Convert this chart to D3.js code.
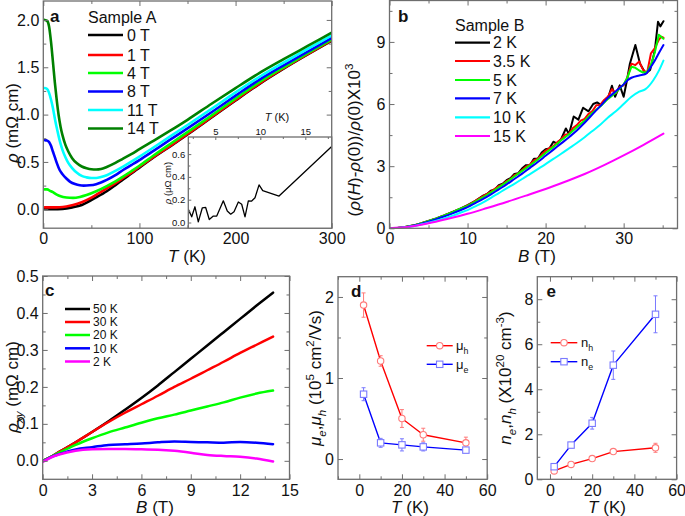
<!DOCTYPE html>
<html><head><meta charset="utf-8">
<script src="https://cdn.jsdelivr.net/npm/d3@7"></script>
<style>
body{margin:0;background:#fff}
svg{display:block}
</style></head><body>
<svg id="chart" width="685" height="516"></svg>
<script>
// ================= DATA =================
// Panel a: rho (mOhm cm) vs T (K), Sample A
const aLabels = ["0 T","1 T","4 T","8 T","11 T","14 T"];
const aColors = ["#000000","#ff0000","#00ff00","#0000ff","#00ffff","#008000"];
const a0T = [[1.5,0],[10,0],[20,0.004],[30,0.02],[40,0.045],[48.6,0.09],[55,0.125],[66,0.19],[75,0.255],[83,0.315],[92,0.38],[100,0.44],[115,0.55],[132,0.665],[150,0.79],[175,0.97],[200,1.15],[225,1.325],[250,1.485],[275,1.635],[300,1.78]];
const a1T = [[1.5,0.02],[10,0.02],[17,0.022],[24,0.03],[31,0.045],[40,0.075],[48.6,0.115],[57,0.165],[66,0.22],[75,0.275],[83,0.33],[92,0.39],[100,0.45],[115,0.555],[132,0.67],[150,0.795],[175,0.975],[200,1.155],[225,1.33],[250,1.49],[275,1.64],[300,1.785]];
const a4T = [[1.5,0.21],[4,0.21],[7,0.195],[10,0.18],[14,0.155],[18,0.138],[24,0.125],[31,0.12],[38,0.13],[45,0.15],[55,0.19],[66,0.245],[75,0.295],[83,0.345],[92,0.405],[100,0.46],[115,0.57],[132,0.69],[150,0.815],[175,0.99],[200,1.17],[225,1.345],[250,1.5],[275,1.65],[300,1.795]];
const a8T = [[1.5,0.73],[4,0.725],[6,0.71],[8,0.67],[10,0.61],[12,0.55],[14,0.49],[17,0.415],[20,0.37],[24,0.325],[28,0.29],[33,0.266],[38,0.253],[42,0.25],[48,0.253],[55,0.265],[60,0.283],[66,0.31],[75,0.36],[83,0.415],[92,0.47],[100,0.52],[115,0.62],[132,0.735],[150,0.855],[175,1.025],[200,1.2],[225,1.37],[250,1.52],[275,1.665],[300,1.81]];
const a11T = [[1.5,1.28],[4,1.27],[6,1.23],[8,1.16],[10,1.07],[12,0.96],[14,0.86],[16,0.77],[18,0.69],[20,0.625],[23,0.55],[26,0.49],[30,0.435],[35,0.385],[40,0.352],[45,0.337],[50,0.33],[55,0.33],[60,0.34],[66,0.36],[75,0.405],[83,0.45],[92,0.505],[100,0.556],[115,0.655],[132,0.77],[150,0.89],[175,1.06],[200,1.235],[225,1.4],[250,1.55],[275,1.695],[300,1.835]];
const a14T = [[1.5,2.0],[4,1.99],[6,1.93],[8,1.77],[10,1.56],[12,1.34],[14,1.15],[16,0.99],[18,0.87],[20,0.78],[23,0.68],[26,0.61],[30,0.54],[35,0.485],[40,0.452],[45,0.433],[50,0.422],[55,0.42],[60,0.425],[66,0.447],[75,0.49],[83,0.535],[92,0.585],[100,0.635],[115,0.725],[132,0.83],[150,0.945],[175,1.115],[200,1.28],[225,1.44],[250,1.585],[275,1.725],[300,1.865]];
const aXTicks = [0,100,200,300], aXMinor = [50,150,250];
const aYTicks = [0,0.5,1.0,1.5,2.0], aYMinor = [0.25,0.75,1.25,1.75];
// Inset of panel a: rho (uOhm cm) vs T (K)
const insetT   = [2.0,2.38,2.74,3.11,3.56,3.93,4.33,4.78,5.16,5.89,6.33,6.71,7.08,7.56,7.93,8.3,8.67,9.04,9.41,9.86,10.27,12.08,17.9];
const insetRho = [0.115,0.05,0.138,0.005,0.129,0.132,0.026,0.056,0.056,0.19,0.1,0.073,0.094,0.18,0.16,0.05,0.19,0.188,0.217,0.33,0.28,0.232,0.665];
const insetXTicks = [5,10,15], insetXMinor = [2.5,7.5,12.5,17.5];
const insetYTicks = [0,0.2,0.4,0.6], insetYMinor = [0.1,0.3,0.5,0.7];

// Panel b: (rho(H)-rho(0))/rho(0) x10^3 vs B (T), Sample B
const bLabels = ["2 K","3.5 K","5 K","7 K","10 K","15 K"];
const bColors = ["#000000","#ff0000","#00ff00","#0000ff","#00ffff","#ff00ff"];
const b2K = [[0,0],[1,0.015],[2,0.06],[3,0.13],[4,0.23],[5,0.35],[6,0.48],[7,0.62],[8,0.78],[9,0.94],[10,1.12],[11,1.33],[12,1.58],[12.5,1.66],[13,1.82],[13.5,1.88],[14,2.08],[14.5,2.15],[15,2.32],[15.5,2.42],[16,2.62],[16.5,2.66],[17,2.9],[17.5,3.05],[18,3.06],[18.5,3.36],[19,3.36],[19.5,3.66],[20,3.82],[20.5,3.86],[21,4.18],[21.5,4.08],[22,4.32],[22.6,4.82],[23,4.55],[23.6,5.4],[24.2,5.25],[24.8,5.82],[25.5,5.65],[26.1,6.0],[26.6,6.08],[27.1,5.95],[27.5,6.15],[28,6.3],[28.5,6.88],[28.9,6.35],[29.5,6.9],[30,6.35],[30.4,7.1],[30.8,7.95],[31.5,8.85],[32.1,7.95],[32.8,7.48],[33.4,7.65],[34,8.6],[34.4,9.97],[34.7,9.75],[35.1,10.0]];
const b3p5K = [[0,0],[1,0.015],[2,0.06],[3,0.13],[4,0.23],[5,0.35],[6,0.48],[7,0.62],[8,0.77],[9,0.93],[10,1.1],[11,1.32],[12,1.55],[13,1.77],[14,2.04],[14.5,2.12],[15,2.28],[15.5,2.38],[16,2.56],[16.5,2.64],[17,2.82],[17.5,2.98],[18,3.08],[18.5,3.28],[19,3.36],[19.5,3.56],[20,3.74],[20.5,3.88],[21,3.96],[21.5,4.16],[22,4.3],[22.5,4.52],[23,4.56],[23.5,4.84],[24,4.98],[24.5,5.2],[25,5.28],[25.5,5.52],[26,5.66],[26.5,5.94],[27,5.96],[27.5,6.2],[28,6.36],[28.5,6.72],[29,6.52],[29.5,6.82],[30,6.9],[30.5,7.3],[31,7.95],[31.5,7.88],[32,8.05],[32.5,7.65],[33,7.5],[33.5,8.45],[34,8.7],[34.5,9.1],[34.8,9.25],[35.1,9.2]];
const b5K = [[0,0],[1,0.015],[2,0.06],[3,0.13],[4,0.23],[5,0.35],[6,0.48],[7,0.62],[8,0.77],[9,0.93],[10,1.08],[11,1.29],[12,1.5],[13,1.73],[14,1.98],[15,2.23],[16,2.5],[17,2.77],[18,3.04],[19,3.32],[20,3.64],[21,3.93],[22,4.25],[23,4.54],[24,4.88],[25,5.2],[26,5.58],[27,5.88],[28,6.25],[29,6.55],[30,6.95],[30.5,7.3],[31,7.8],[31.5,7.75],[32,7.62],[32.5,7.52],[33,7.55],[33.5,7.9],[34,8.5],[34.5,9.35],[35.1,9.15]];
const b7K = [[0,0],[1,0.015],[2,0.055],[3,0.12],[4,0.21],[5,0.32],[6,0.44],[7,0.57],[8,0.71],[9,0.86],[10,1.02],[11,1.22],[12,1.42],[13,1.64],[14,1.88],[15,2.12],[16,2.38],[17,2.64],[18,2.92],[19,3.2],[20,3.5],[21,3.8],[22,4.1],[23,4.4],[24,4.72],[25,5.1],[26,5.5],[27,5.9],[28,6.3],[29,6.62],[30,6.95],[30.5,7.15],[31,7.27],[32,7.38],[32.8,7.45],[33.5,7.8],[34,8.1],[34.5,8.45],[35.1,8.85]];
const b10K = [[0,0],[1,0.012],[2,0.045],[3,0.1],[4,0.18],[5,0.27],[6,0.37],[7,0.48],[8,0.6],[9,0.74],[10,0.88],[11,1.06],[12,1.25],[13,1.47],[14,1.7],[15,1.93],[16,2.15],[17,2.38],[18,2.62],[19,2.86],[20,3.1],[21,3.35],[22,3.6],[23,3.86],[24,4.12],[25,4.4],[26,4.7],[27,5.0],[28,5.35],[29,5.65],[30,6.0],[31,6.35],[32,6.6],[32.8,6.72],[33.8,7.15],[34.5,7.6],[35.1,8.1]];
const b15K = [[0,0],[2.5,0.07],[5,0.24],[7.5,0.46],[10,0.7],[12.5,0.98],[15,1.27],[17.5,1.58],[20,1.9],[22.5,2.25],[25,2.62],[27.5,3.05],[30,3.52],[32.5,4.02],[35.1,4.57]];
const bXTicks = [0,10,20,30], bXMinor = [5,15,25,35];
const bYTicks = [0,3,6,9], bYMinor = [1.5,4.5,7.5,10.5];

// Panel c: rho_xy (mOhm cm) vs B (T)
const cLabels = ["50 K","30 K","20 K","10 K","2 K"];
const cColors = ["#000000","#ff0000","#00ff00","#0000ff","#ff00ff"];
const cB   = [0,0.5,1,2,3,4,5,6,7,8,9,10,11,12,13,14];
const c50K = [0,0.011,0.024,0.05,0.078,0.107,0.138,0.17,0.204,0.24,0.276,0.312,0.348,0.384,0.42,0.455];
const c30K = [0,0.011,0.024,0.05,0.078,0.105,0.13,0.153,0.176,0.2,0.222,0.245,0.268,0.292,0.314,0.336];
const c20K = [0,0.011,0.022,0.043,0.061,0.077,0.09,0.103,0.115,0.125,0.136,0.147,0.158,0.171,0.182,0.19];
const c10K = [-0.002,0.01,0.018,0.031,0.037,0.043,0.045,0.047,0.05,0.052,0.051,0.05,0.049,0.051,0.049,0.045];
const c2K  = [-0.003,0.009,0.017,0.027,0.031,0.032,0.032,0.031,0.03,0.027,0.022,0.016,0.013,0.011,0.006,-0.002];
const cXTicks = [0,3,6,9,12,15], cXMinor = [1.5,4.5,7.5,10.5,13.5];
const cYTicks = [0,0.1,0.2,0.3,0.4,0.5], cYMinor = [0.05,0.15,0.25,0.35,0.45];

// Panel d: mobilities (10^5 cm^2/Vs) vs T (K)
const dT = [2,10,20,30,50];
const muH = [1.9,1.21,0.5,0.3,0.2], muHErr = [0.15,0.065,0.11,0.08,0.07];
const muE = [0.8,0.2,0.175,0.15,0.11], muEErr = [0.08,0.055,0.075,0.05,0.025];
const dXTicks = [0,20,40,60], dXMinor = [-10,10,30,50];
const dYTicks = [0,1,2], dYMinor = [0.5,1.5];

// Panel e: carrier densities (10^20 cm^-3) vs T (K)
const eT = [2,10,20,30,50];
const nH = [0.37,0.66,0.92,1.23,1.4], nHErr = [0.05,0.07,0.05,0.08,0.2];
const nE = [0.56,1.52,2.49,5.07,7.33], nEErr = [0.05,0.12,0.26,0.63,0.82];
const eXTicks = [0,20,40,60], eXMinor = [10,30,50];
const eYTicks = [0,2,4,6,8], eYMinor = [1,3,5,7];

// ================= DRAWING =================
const FONT = '"Liberation Sans", Arial, Helvetica, sans-serif';
const AXC = "#6e6e6e", TXT = "#111";
const svg = d3.select("#chart").attr("font-family", FONT);
let clipN = 0;

function panel(xd, xr, yd, yr) {
  const x = d3.scaleLinear().domain(xd).range(xr);
  const y = d3.scaleLinear().domain(yd).range(yr);
  const id = "clip" + (clipN++);
  svg.append("clipPath").attr("id", id).append("rect")
    .attr("x", xr[0]).attr("y", yr[1]).attr("width", xr[1]-xr[0]).attr("height", yr[0]-yr[1]);
  return {x, y, clip: `url(#${id})`, g: svg.append("g")};
}

function styleAxis(sel, fs) {
  sel.select(".domain").remove();
  sel.selectAll("line").attr("stroke", AXC).attr("stroke-width", 1);
  sel.selectAll("text").attr("fill", TXT).attr("font-size", fs).attr("font-family", FONT);
}

function axes(P, o) {
  const {x, y, g} = P;
  const [x0, x1] = x.range(), [y0, y1] = y.range();
  const maj = o.maj || 5, mnr = o.mnr || 3, fs = o.fs || 16;
  const none = () => "";
  const sides = o.sides || ["b","t","l","r"];
  if (sides.includes("b")) {
    g.append("g").attr("transform", `translate(0,${y0})`)
      .call(d3.axisBottom(x).tickValues(o.xt).tickFormat(o.xf || none).tickSizeInner(-maj).tickSizeOuter(0).tickPadding(o.xpad || 4))
      .call(s => styleAxis(s, fs));
    g.append("g").attr("transform", `translate(0,${y0})`)
      .call(d3.axisBottom(x).tickValues(o.xm).tickFormat(none).tickSizeInner(-mnr).tickSizeOuter(0))
      .call(s => styleAxis(s, fs));
  }
  if (sides.includes("t")) {
    g.append("g").attr("transform", `translate(0,${y1})`)
      .call(d3.axisTop(x).tickValues(o.xt).tickFormat(o.topF || none).tickSizeInner(-maj).tickSizeOuter(0).tickPadding(o.tpad || 3))
      .call(s => styleAxis(s, fs));
    g.append("g").attr("transform", `translate(0,${y1})`)
      .call(d3.axisTop(x).tickValues(o.xm).tickFormat(none).tickSizeInner(-mnr).tickSizeOuter(0))
      .call(s => styleAxis(s, fs));
  }
  if (sides.includes("l")) {
    g.append("g").attr("transform", `translate(${x0},0)`)
      .call(d3.axisLeft(y).tickValues(o.yt).tickFormat(o.yf || none).tickSizeInner(-maj).tickSizeOuter(0).tickPadding(o.ypad || 4))
      .call(s => styleAxis(s, fs));
    g.append("g").attr("transform", `translate(${x0},0)`)
      .call(d3.axisLeft(y).tickValues(o.ym).tickFormat(none).tickSizeInner(-mnr).tickSizeOuter(0))
      .call(s => styleAxis(s, fs));
  }
  if (sides.includes("r")) {
    g.append("g").attr("transform", `translate(${x1},0)`)
      .call(d3.axisRight(y).tickValues(o.yt).tickFormat(none).tickSizeInner(-maj).tickSizeOuter(0))
      .call(s => styleAxis(s, fs));
    g.append("g").attr("transform", `translate(${x1},0)`)
      .call(d3.axisRight(y).tickValues(o.ym).tickFormat(none).tickSizeInner(-mnr).tickSizeOuter(0))
      .call(s => styleAxis(s, fs));
  }
}

function frame(P) {
  const [x0, x1] = P.x.range(), [y0, y1] = P.y.range();
  P.g.append("rect").attr("x", x0).attr("y", y1).attr("width", x1-x0).attr("height", y0-y1)
    .attr("fill", "none").attr("stroke", AXC).attr("stroke-width", 1.3);
}

// rich text: parts = [{t, i, sub, sup}]
function rich(sel, parts, fs) {
  let shift = 0;
  parts.forEach(p => {
    const small = p.sub || p.sup;
    const target = p.sub ? fs*0.3 : (p.sup ? -fs*0.42 : 0);
    const ts = sel.append("tspan").text(p.t).attr("font-size", small ? fs*0.68 : fs).attr("dy", target - shift);
    shift = target;
    if (p.i) ts.attr("font-style", "italic");
  });
  return sel;
}
function label(x, y, parts, fs, opts = {}) {
  const t = svg.append("text").attr("fill", TXT).attr("font-size", fs)
    .attr("text-anchor", opts.anchor || "middle");
  if (opts.rot) t.attr("transform", `translate(${x},${y}) rotate(-90)`);
  else t.attr("x", x).attr("y", y);
  if (opts.bold) t.attr("font-weight", "bold");
  rich(t, parts, fs);
  return t;
}

function drawLine(P, data, color, w, curve) {
  P.g.append("path").datum(data).attr("clip-path", P.clip)
    .attr("fill", "none").attr("stroke", color).attr("stroke-width", w)
    .attr("stroke-linejoin", "round").attr("stroke-linecap", "round")
    .attr("d", d3.line().x(d => P.x(d[0])).y(d => P.y(d[1])).curve(curve || d3.curveLinear));
}

const f1 = d3.format(".1f"), fd = d3.format("d");

// ---------- Panel a ----------
const A = panel([0,300], [43.3,331.7], [-0.2,2.2], [228.2,1.0]);
const aSeries = [a0T,a1T,a4T,a8T,a11T,a14T];
aSeries.forEach((s,i) => drawLine(A, s, aColors[i], 2.6, d3.curveMonotoneX));
axes(A, {xt:aXTicks, xm:aXMinor, yt:aYTicks, ym:aYMinor, xf:fd, yf:f1, fs:16});
frame(A);
label(187, 261.5, [{t:"T",i:1},{t:" (K)"}], 17);
label(18, 123, [{t:"ρ",i:1},{t:" (mΩ cm)"}], 17, {rot:1});
label(50, 22, [{t:"a"}], 17, {bold:1, anchor:"start"});
label(88, 23, [{t:"Sample A"}], 16, {anchor:"start"});
const aLegY = [35,55,73,91.5,110,128.5];
aLabels.forEach((l,i) => {
  svg.append("line").attr("x1",88).attr("x2",123).attr("y1",aLegY[i]).attr("y2",aLegY[i])
    .attr("stroke",aColors[i]).attr("stroke-width",2.6);
  label(127, aLegY[i]+5.5, [{t:l}], 16, {anchor:"start"});
});

// inset
const I = panel([2,17.93], [188.3,331.7], [-0.05,0.75], [228.2,137]);
I.g.append("rect").attr("x",188.3).attr("y",137).attr("width",331.7-188.3).attr("height",228.2-137).attr("fill","#fff");
drawLine(I, insetT.map((t,i)=>[t, insetRho[i]]), "#000", 1.3);
axes(I, {xt:insetXTicks, xm:insetXMinor, yt:insetYTicks, ym:insetYMinor, yf:f1, topF:fd, fs:9.5, maj:3, mnr:2, ypad:3, tpad:2, sides:["t","l"]});
frame(I);
label(277, 121, [{t:"T",i:1},{t:" (K)"}], 11);
label(171, 183, [{t:"ρ",i:1},{t:" (μΩ cm)"}], 9.5, {rot:1});

// ---------- Panel b ----------
const B = panel([0,36.9], [389.5,677.5], [0,11], [228.3,0.5]);
const bSeries = [b2K,b3p5K,b5K,b7K,b10K,b15K];
bSeries.forEach((s,i) => drawLine(B, s, bColors[i], 2.0, i < 3 ? d3.curveLinear : d3.curveMonotoneX));
axes(B, {xt:bXTicks, xm:bXMinor, yt:bYTicks, ym:bYMinor, xf:fd, yf:fd, fs:16});
frame(B);
label(537, 261.5, [{t:"B",i:1},{t:" (T)"}], 17);
label(360, 140, [{t:"("},{t:"ρ",i:1},{t:"("},{t:"H",i:1},{t:")-"},{t:"ρ",i:1},{t:"(0))/"},{t:"ρ",i:1},{t:"(0)X10"},{t:"3",sup:1}], 17, {rot:1});
label(398, 22, [{t:"b"}], 17, {bold:1, anchor:"start"});
label(455, 31, [{t:"Sample B"}], 16, {anchor:"start"});
const bLegY = [42.7,61,80,98.3,117.3,136];
bLabels.forEach((l,i) => {
  svg.append("line").attr("x1",455).attr("x2",490).attr("y1",bLegY[i]).attr("y2",bLegY[i])
    .attr("stroke",bColors[i]).attr("stroke-width",2.2);
  label(493, bLegY[i]+5.5, [{t:l}], 16, {anchor:"start"});
});

// ---------- Panel c ----------
const C = panel([0,15], [42.7,289.5], [-0.05,0.5], [479.3,276]);
[c50K,c30K,c20K,c10K,c2K].forEach((s,i) => drawLine(C, cB.map((b,j)=>[b, s[j]]), cColors[i], 2.5, d3.curveMonotoneX));
axes(C, {xt:cXTicks, xm:cXMinor, yt:cYTicks, ym:cYMinor, xf:fd, yf:f1, fs:16, xpad:5});
frame(C);
label(155, 512.5, [{t:"B",i:1},{t:" (T)"}], 17);
label(18, 387, [{t:"ρ",i:1},{t:"xy",i:1,sub:1},{t:" (mΩ cm)"}], 17, {rot:1});
label(45, 296, [{t:"c"}], 17, {bold:1, anchor:"start"});
const cLegY = [309,322,335,348.3,361.5];
cLabels.forEach((l,i) => {
  svg.append("line").attr("x1",65).attr("x2",90).attr("y1",cLegY[i]).attr("y2",cLegY[i])
    .attr("stroke",cColors[i]).attr("stroke-width",2.5);
  label(93, cLegY[i]+4.3, [{t:l}], 12, {anchor:"start"});
});

// ---------- scatter helper for d/e ----------
function scatterSeries(P, xs, ys, errs, lineCol, lightCol, shape) {
  const pts = xs.map((t,i)=>[t, ys[i]]);
  drawLine(P, pts, lineCol, 1.4);
  const g = P.g.append("g");
  xs.forEach((t,i) => {
    const cx = P.x(t), ya = P.y(ys[i]+errs[i]), yb = P.y(ys[i]-errs[i]);
    g.append("line").attr("x1",cx).attr("x2",cx).attr("y1",ya).attr("y2",yb).attr("stroke",lightCol).attr("stroke-width",1);
    [ya,yb].forEach(yy => g.append("line").attr("x1",cx-2).attr("x2",cx+2).attr("y1",yy).attr("y2",yy).attr("stroke",lightCol).attr("stroke-width",1));
  });
  xs.forEach((t,i) => marker(g, P.x(t), P.y(ys[i]), lightCol, shape));
}
function marker(g, cx, cy, col, shape) {
  if (shape === "circle") g.append("circle").attr("cx",cx).attr("cy",cy).attr("r",3.2).attr("fill","#fff").attr("stroke",col).attr("stroke-width",1.1);
  else g.append("rect").attr("x",cx-3.2).attr("y",cy-3.2).attr("width",6.4).attr("height",6.4).attr("fill","#fff").attr("stroke",col).attr("stroke-width",1.1);
}
function legendRow(x1, x2, y, lineCol, lightCol, shape, parts, tx) {
  svg.append("line").attr("x1",x1).attr("x2",x2).attr("y1",y).attr("y2",y).attr("stroke",lineCol).attr("stroke-width",1.4);
  marker(svg, (x1+x2)/2, y, lightCol, shape);
  label(tx, y+4.5, parts, 13, {anchor:"start"});
}

// ---------- Panel d ----------
const D = panel([-10,60], [338,487.2], [-0.25,2.25], [479.3,276.7]);
scatterSeries(D, dT, muH, muHErr, "#ff0000", "#ff7a7a", "circle");
scatterSeries(D, dT, muE, muEErr, "#0000ff", "#7a7aff", "square");
axes(D, {xt:dXTicks, xm:dXMinor, yt:dYTicks, ym:dYMinor, xf:fd, yf:fd, fs:16, xpad:5});
frame(D);
label(410, 512.5, [{t:"T",i:1},{t:" (K)"}], 17);
label(321, 378, [{t:"μ",i:1},{t:"e",i:1,sub:1},{t:","},{t:"μ",i:1},{t:"h",i:1,sub:1},{t:" (10"},{t:"5",sup:1},{t:" cm"},{t:"2",sup:1},{t:"/Vs)"}], 17, {rot:1});
label(351, 297, [{t:"d"}], 17, {bold:1, anchor:"start"});
legendRow(426.7, 452.7, 345.7, "#ff0000", "#ff7a7a", "circle", [{t:"μ"},{t:"h",sub:1}], 456);
legendRow(426.7, 452.7, 364.3, "#0000ff", "#7a7aff", "square", [{t:"μ"},{t:"e",sub:1}], 456);

// ---------- Panel e ----------
const E = panel([-6,60], [537.3,676.6], [0,9], [479.3,276.7]);
scatterSeries(E, eT, nH, nHErr, "#ff0000", "#ff7a7a", "circle");
scatterSeries(E, eT, nE, nEErr, "#0000ff", "#7a7aff", "square");
axes(E, {xt:eXTicks, xm:eXMinor, yt:eYTicks, ym:eYMinor, xf:fd, yf:fd, fs:16, xpad:5});
frame(E);
label(607, 512.5, [{t:"T",i:1},{t:" (K)"}], 17);
label(511, 378, [{t:"n",i:1},{t:"e",i:1,sub:1},{t:","},{t:"n",i:1},{t:"h",i:1,sub:1},{t:" (X10"},{t:"20",sup:1},{t:" cm"},{t:"-3",sup:1},{t:")"}], 17, {rot:1});
label(546.5, 297, [{t:"e"}], 17, {bold:1, anchor:"start"});
legendRow(550.7, 577.3, 342.7, "#ff0000", "#ff7a7a", "circle", [{t:"n"},{t:"h",sub:1}], 581);
legendRow(550.7, 577.3, 361.7, "#0000ff", "#7a7aff", "square", [{t:"n"},{t:"e",sub:1}], 581);
</script>
</body></html>
